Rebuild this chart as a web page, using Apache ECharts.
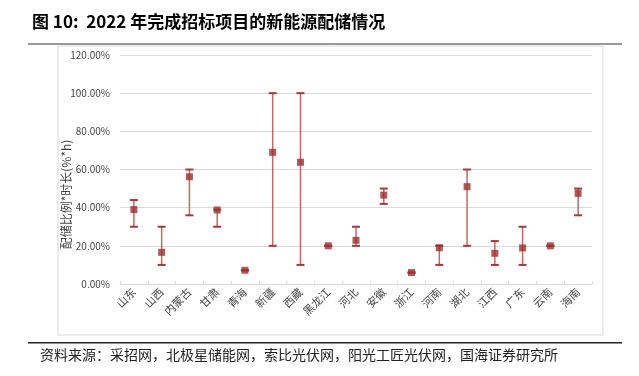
<!DOCTYPE html>
<html>
<head>
<meta charset="utf-8">
<script src="https://cdn.jsdelivr.net/npm/echarts@6/dist/echarts.min.js"></script>
<style>
html, body { margin: 0; padding: 0; background: #fff; }
#container { width: 639px; height: 376px; }
</style>
</head>
<body>
<div id="container"></div>
<script>
// 各省份配储比例*时长(%)
let provinces = ['山东', '山西', '内蒙古', '甘肃', '青海', '新疆', '西藏', '黑龙江', '河北',
    '安徽', '浙江', '河南', '湖北', '江西', '广东', '云南', '海南'];
let avgVals = [39, 16.6, 56.2, 38.8, 7.2, 69, 63.8, 20, 22.9, 46.6, 6, 19, 51, 16.1, 18.9, 20, 47.5];
let minVals = [30, 10, 36, 30, 7.2, 20, 10, 20, 20, 42, 6, 10, 20, 10, 10, 20, 36];
let maxVals = [44, 30, 60, 39, 7.2, 100, 100, 20, 30, 50, 6, 20, 60, 22.5, 30, 20, 50];

let dom = document.getElementById("container");
let myChart = echarts.init(dom);

let barData = provinces.map(function (p, i) {
    return [i, minVals[i], maxVals[i]];
});

let option = {
    animation: false,
    textStyle: {
        fontFamily: 'Noto Sans CJK SC'
    },
    graphic: [
        {
            type: 'text', left: 32, top: 13,
            style: {
                text: '图 10:  2022 年完成招标项目的新能源配储情况',
                font: 'bold 17px "Noto Sans CJK SC"', fill: '#000'
            }
        },
        {
            type: 'rect', shape: {x: 28, y: 43, width: 594, height: 2},
            style: {fill: '#999'}
        },
        {
            type: 'rect', shape: {x: 58, y: 46, width: 545, height: 289},
            style: {fill: 'none', stroke: '#d9d9d9', lineWidth: 1}
        },
        {
            type: 'rect', shape: {x: 28, y: 342, width: 594, height: 1.5},
            style: {fill: '#222'}
        },
        {
            type: 'text', left: 40, top: 348,
            style: {
                text: '资料来源：采招网，北极星储能网，索比光伏网，阳光工匠光伏网，国海证券研究所',
                font: '14px "Noto Sans CJK SC"', fill: '#222'
            }
        }
    ],
    grid: {
        left: 120,
        right: 47,
        top: 55,
        bottom: 92
    },
    xAxis: {
        type: 'category',
        data: provinces,
        boundaryGap: true,
        axisLine: {lineStyle: {color: '#d9d9d9'}},
        axisTick: {show: true, inside: true, length: 3, lineStyle: {color: '#d9d9d9'}},
        axisLabel: {
            interval: 0,
            rotate: 45,
            color: '#444',
            fontSize: 11,
            margin: 6
        }
    },
    yAxis: {
        type: 'value',
        min: 0,
        max: 120,
        interval: 20,
        name: '配储比例*时长(%*h)',
        nameLocation: 'middle',
        nameRotate: 90,
        nameGap: 48,
        nameMoveOverlap: false,
        nameTextStyle: {color: '#444', fontSize: 12, padding: [0, 50, 0, 0]},
        axisLine: {show: false},
        axisTick: {show: false},
        axisLabel: {
            color: '#444',
            fontSize: 10,
            margin: 10,
            formatter: function (v) { return v.toFixed(2) + '%'; }
        },
        splitLine: {lineStyle: {color: '#d9d9d9', width: 1}}
    },
    series: [
        {
            name: '范围',
            type: 'custom',
            data: barData,
            renderItem: function (params, api) {
                let x = api.value(0);
                let lo = api.coord([x, api.value(1)]);
                let hi = api.coord([x, api.value(2)]);
                let w = 4;
                return {
                    type: 'group',
                    children: [
                        {
                            type: 'line',
                            shape: {x1: lo[0], y1: lo[1], x2: hi[0], y2: hi[1]},
                            style: {stroke: '#bf6a6a', lineWidth: 1.5}
                        },
                        {
                            type: 'line',
                            shape: {x1: hi[0] - w, y1: hi[1], x2: hi[0] + w, y2: hi[1]},
                            style: {stroke: '#a33a3a', lineWidth: 2}
                        },
                        {
                            type: 'line',
                            shape: {x1: lo[0] - w, y1: lo[1], x2: lo[0] + w, y2: lo[1]},
                            style: {stroke: '#a33a3a', lineWidth: 2}
                        }
                    ]
                };
            },
            z: 2
        },
        {
            name: '平均',
            type: 'scatter',
            data: avgVals,
            symbol: 'rect',
            symbolSize: 7,
            itemStyle: {color: '#9c2f2f'},
            z: 3
        }
    ]
};
myChart.setOption(option, true);

window.onresize = function () {
    myChart.resize();
};
</script>
</body>
</html>
